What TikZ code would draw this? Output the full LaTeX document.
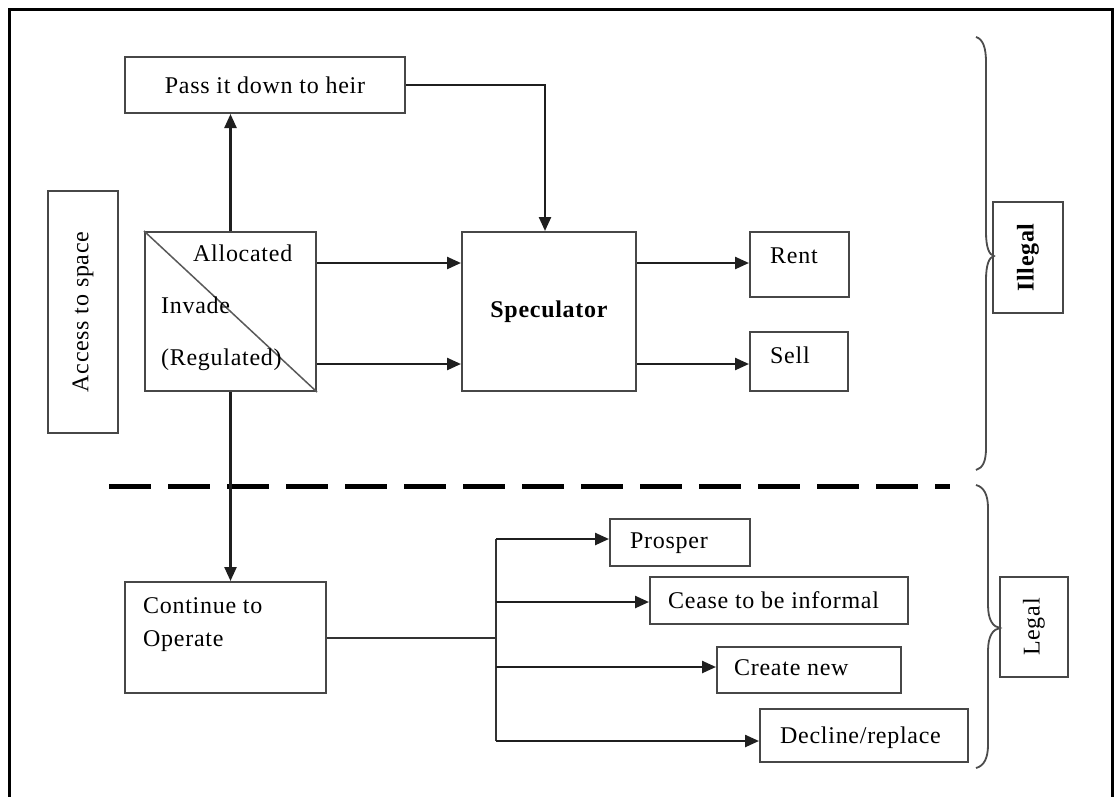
\documentclass[tikz,border=0pt]{standalone}
\usepackage{fontspec}
\setmainfont{Liberation Serif}[LetterSpace=3]
\usetikzlibrary{arrows.meta}
\begin{document}
\begin{tikzpicture}[x=1pt,y=-1pt,
  bx/.style={draw=black!72, line width=2pt, inner sep=0pt, font=\fontsize{24}{28}\selectfont},
  txt/.style={inner sep=0pt, font=\fontsize{24}{28}\selectfont},
  arr/.style={draw=black!88, line width=2.4pt, -{Triangle[length=14pt,width=12pt]}},
  ln/.style={draw=black!80, line width=2pt},
  brc/.style={draw=black!70, line width=1.8pt},
  sep/.style={draw=black, line width=5pt, dash pattern=on 42pt off 17pt}
]
\useasboundingbox (0,0) rectangle (1114,796);
\fill[white] (0,0) rectangle (1114,796);
% frame
\draw[line width=3pt] (9,800) -- (9,9) -- (1112,9) -- (1112,800);

% boxes
\node[bx, minimum width=280pt, minimum height=56pt] (pass) at (265,85) {Pass it down to heir};
\node[bx, rotate=90, minimum width=242pt, minimum height=70pt] (access) at (83,312) {Access to space};
\node[bx, minimum width=171pt, minimum height=159pt] (alloc) at (230.5,311.5) {};
\node[bx, minimum width=174pt, minimum height=159pt, font=\fontsize{24}{28}\selectfont\bfseries] (spec) at (549,311.5) {Speculator};
\node[bx, minimum width=99pt, minimum height=65pt] (rent) at (799.5,264.5) {};
\node[bx, minimum width=98pt, minimum height=59pt] (sell) at (799,361.5) {};
\node[bx, rotate=90, minimum width=111pt, minimum height=70pt, font=\fontsize{24}{28}\selectfont\bfseries] (illegal) at (1028,257.5) {Illegal};
\node[bx, rotate=90, minimum width=100pt, minimum height=68pt] (legal) at (1034,627) {Legal};
\node[bx, minimum width=201pt, minimum height=111pt] (cont) at (225.5,637.5) {};
\node[bx, minimum width=140pt, minimum height=47pt] (prosper) at (680,542.5) {};
\node[bx, minimum width=258pt, minimum height=47pt] (cease) at (779,600.5) {};
\node[bx, minimum width=184pt, minimum height=46pt] (create) at (809,670) {};
\node[bx, minimum width=208pt, minimum height=53pt] (decline) at (864,735.5) {};

% texts inside boxes
\draw[draw=black!65, line width=1.5pt] (alloc.north west) -- (alloc.south east);
\node[txt, anchor=base west] (tAlloc) at (193,261) {Allocated};
\node[txt, anchor=base west] (tInv) at (161,313) {Invade};
\node[txt, anchor=base west] (tReg) at (161,365) {(Regulated)};
\node[txt, anchor=base west] (tRent) at (770,263) {Rent};
\node[txt, anchor=base west] (tSell) at (770,363) {Sell};
\node[txt, anchor=base west] (tCont1) at (143,613) {Continue to};
\node[txt, anchor=base west] (tCont2) at (143,646) {Operate};
\node[txt, anchor=base west] (tPros) at (630,548) {Prosper};
\node[txt, anchor=base west] (tCease) at (668,608) {Cease to be informal};
\node[txt, anchor=base west] (tCreate) at (734,675) {Create new};
\node[txt, anchor=base west] (tDecl) at (780,743) {Decline/replace};

% separator
\draw[sep] (109,486) -- (950,486);

% connectors
\draw[arr] (alloc.north) -- (pass.south -| alloc.north);
\draw[arr] (pass.east) -| ([xshift=-4pt]spec.north);
\draw[arr] ([yshift=48.5pt]alloc.east) -- ([yshift=48.5pt]alloc.east -| spec.west);
\draw[arr] ([yshift=-52.5pt]alloc.east) -- ([yshift=-52.5pt]alloc.east -| spec.west);
\draw[arr] ([yshift=1.5pt]rent.west -| spec.east) -- ([yshift=1.5pt]rent.west);
\draw[arr] ([yshift=-2.5pt]sell.west -| spec.east) -- ([yshift=-2.5pt]sell.west);
\draw[arr] (alloc.south) -- (cont.north -| alloc.south);

\coordinate (b1) at (496,539);
\coordinate (b2) at (496,602);
\coordinate (b3) at (496,667);
\coordinate (b4) at (496,741);
\draw[ln] (cont.east) -- (cont.east -| b1);
\draw[ln] (b1) -- (b4);
\draw[arr] (b1) -- (b1 -| prosper.west);
\draw[arr] (b2) -- (b2 -| cease.west);
\draw[arr] (b3) -- (b3 -| create.west);
\draw[arr] (b4) -- (b4 -| decline.west);

% braces
\draw[brc] (976,37) .. controls (983,39) and (986,48) .. (986,62) -- (986,232)
  .. controls (986,247) and (989,255) .. (994,256)
  .. controls (989,257) and (986,265) .. (986,280) -- (986,448)
  .. controls (986,461) and (983,468) .. (976,470);
\draw[brc] (976,485) .. controls (984,487) and (988,495) .. (988,508) -- (988,605)
  .. controls (988,620) and (993,627) .. (1000,628)
  .. controls (993,629) and (988,636) .. (988,651) -- (988,745)
  .. controls (988,758) and (984,766) .. (976,768);
\end{tikzpicture}
\end{document}
